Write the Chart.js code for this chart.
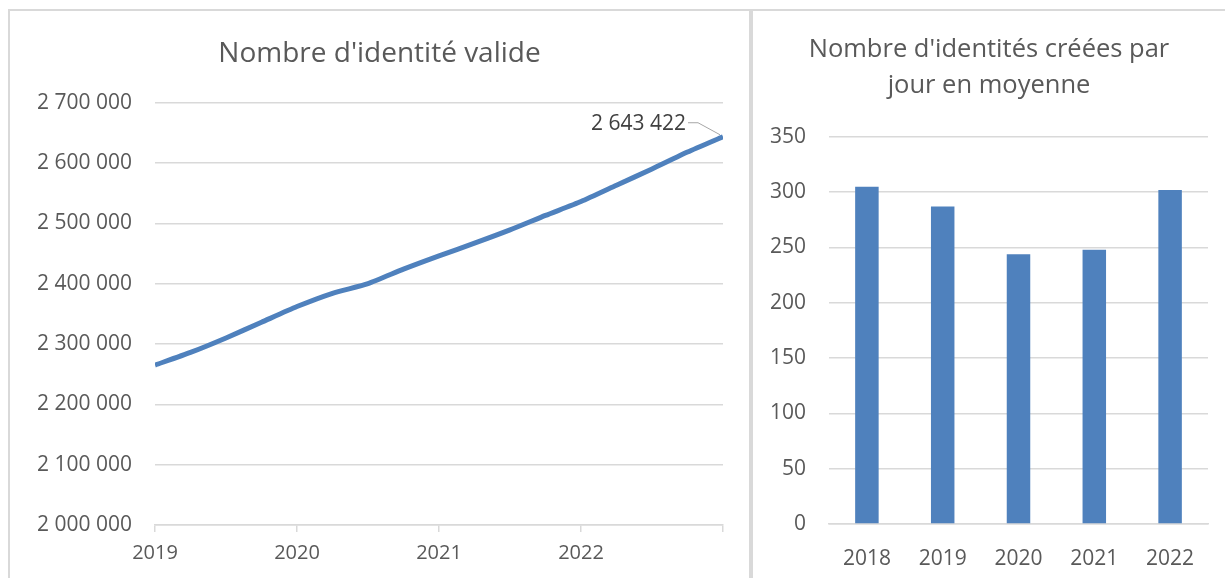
<!DOCTYPE html>
<html>
<head>
<meta charset="utf-8">
<script src="https://cdn.jsdelivr.net/npm/chart.js@4.4.1/dist/chart.umd.min.js"></script>
<style>
  html, body { margin: 0; padding: 0; background: #fff; }
  body { width: 1225px; height: 578px; position: relative; overflow: hidden; }
  .panel { position: absolute; box-sizing: border-box; border: 2px solid #d9d9d9; }
  #leftPanel { left: 8px; top: 9px; width: 743px; height: 620px; }
  #rightPanel { left: 750px; top: 9px; width: 490px; height: 620px; border-left-width: 3px; }
  canvas { position: absolute; top: 0; }
  #lineChart { left: 0; }
  #barChart { left: 752px; }
</style>
</head>
<body>
<div class="panel" id="leftPanel"></div>
<div class="panel" id="rightPanel"></div>
<canvas id="lineChart" width="750" height="578"></canvas>
<canvas id="barChart" width="473" height="578"></canvas>
<script>
/** Data **/
//  Left chart: valid identities, one reading per quarter (x in years)
const lineYears = [2019, 2019.25, 2019.5, 2019.75, 2020, 2020.25, 2020.5, 2020.75,
  2021, 2021.25, 2021.5, 2021.75, 2022, 2022.25, 2022.5, 2022.75, 2023];
const validIdentities = [2265000, 2286000, 2310000, 2336000, 2362000, 2384000, 2400000, 2424000,
  2446000, 2467000, 2489000, 2513000, 2536000, 2563000, 2590000, 2618000, 2643422];

//  Right chart: identities created per day on average
const barYears = ["2018", "2019", "2020", "2021", "2022"];
const createdPerDay = [305, 287, 244, 248, 302];

/** Shared styling **/
const blue = "#4f81bd";
const gridGrey = "#d9d9d9";
const textGrey = "#595959";
const fontFamily = "'Open Sans', 'Noto Sans', sans-serif";

//  Format numbers with a space as thousands separator
function spaced(n) {
  return Math.round(n).toString().replace(/\B(?=(\d{3})+(?!\d))/g, " ");
}

/** Plugin to write the value label on the last point of the line **/
const lastLabel = {
  id: "lastLabel",
  afterDatasetsDraw(chart) {
    const meta = chart.getDatasetMeta(0);
    const pt = meta.data[meta.data.length - 1];
    const value = chart.data.datasets[0].data[meta.data.length - 1].y;
    const ctx = chart.ctx;
    ctx.save();
    //  Leader line
    ctx.strokeStyle = "#a6a6a6";
    ctx.lineWidth = 1;
    ctx.beginPath();
    ctx.moveTo(pt.x - 35, pt.y - 14);
    ctx.lineTo(pt.x - 25, pt.y - 14);
    ctx.lineTo(pt.x - 3, pt.y - 2);
    ctx.stroke();
    //  Value text
    ctx.fillStyle = "#404040";
    ctx.font = "21px " + fontFamily;
    ctx.textAlign = "right";
    ctx.textBaseline = "middle";
    ctx.fillText(spaced(value), pt.x - 37, pt.y - 13);
    ctx.restore();
  },
};

/** Left chart: line **/
new Chart(document.getElementById("lineChart"), {
  type: "line",
  data: {
    datasets: [
      {
        data: lineYears.map((x, i) => ({ x: x, y: validIdentities[i] })),
        borderColor: blue,
        borderWidth: 5,
        pointRadius: 0,
        tension: 0.2,
      },
    ],
  },
  options: {
    responsive: false,
    animation: false,
    layout: { padding: { top: 37, right: 27, bottom: 13, left: 36 } },
    plugins: {
      legend: { display: false },
      tooltip: { enabled: false },
      title: {
        display: true,
        text: "Nombre d'identité valide",
        color: textGrey,
        font: { family: fontFamily, size: 28, weight: "normal", lineHeight: 1.2 },
        padding: { top: 0, bottom: 32 },
      },
    },
    scales: {
      x: {
        type: "linear",
        min: 2019,
        max: 2023,
        ticks: {
          stepSize: 1,
          color: textGrey,
          font: { family: fontFamily, size: 20 },
          padding: 9,
          maxRotation: 0,
          callback: (v) => (v === 2023 ? "" : String(v)),
        },
        grid: { drawOnChartArea: false, color: gridGrey, lineWidth: 1.5, tickLength: 7 },
        border: { color: gridGrey, width: 1.5 },
        afterFit: (scale) => { scale.height = 40; },
      },
      y: {
        min: 2000000,
        max: 2700000,
        ticks: {
          stepSize: 100000,
          color: textGrey,
          font: { family: fontFamily, size: 21 },
          padding: 23,
          callback: (v) => spaced(v),
        },
        grid: { color: gridGrey, lineWidth: 1.5, drawTicks: false },
        border: { display: false },
        afterFit: (scale) => { scale.width = 119; },
      },
    },
  },
  plugins: [lastLabel],
});

/** Right chart: bars **/
new Chart(document.getElementById("barChart"), {
  type: "bar",
  data: {
    labels: barYears,
    datasets: [
      {
        data: createdPerDay,
        backgroundColor: blue,
        categoryPercentage: 1,
        barPercentage: 0.31,
      },
    ],
  },
  options: {
    responsive: false,
    animation: false,
    layout: { padding: { top: 32, right: 17, bottom: 10, left: 18 } },
    plugins: {
      legend: { display: false },
      tooltip: { enabled: false },
      title: {
        display: true,
        text: ["Nombre d'identités créées par", "jour en moyenne"],
        color: textGrey,
        font: { family: fontFamily, size: 25.5, weight: "normal", lineHeight: 1.41 },
        padding: { top: 0, bottom: 33 },
      },
    },
    scales: {
      x: {
        ticks: { color: textGrey, font: { family: fontFamily, size: 21 }, padding: 22 },
        grid: { display: false, drawTicks: false },
        border: { color: gridGrey, width: 1.5 },
        afterFit: (scale) => { scale.height = 44; },
      },
      y: {
        min: 0,
        max: 350,
        ticks: { stepSize: 50, color: textGrey, font: { family: fontFamily, size: 21 }, padding: 23 },
        grid: { color: gridGrey, lineWidth: 1.5, drawTicks: false },
        border: { display: false },
        afterFit: (scale) => { scale.width = 59; },
      },
    },
  },
});
</script>
</body>
</html>
